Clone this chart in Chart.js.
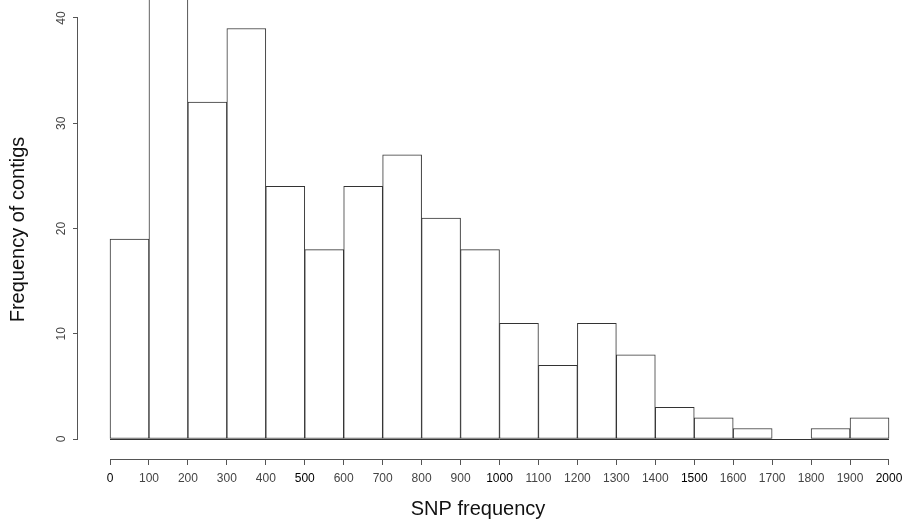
<!DOCTYPE html>
<html>
<head>
<meta charset="utf-8">
<script src="https://cdn.jsdelivr.net/npm/chart.js@4.4.1/dist/chart.umd.min.js"></script>
<style>
html, body { margin: 0; padding: 0; background: #fff; }
canvas { display: block; }
</style>
</head>
<body>
<canvas id="histChart" width="903" height="521"></canvas>
<script>
// Dados
const binStarts = [0, 100, 200, 300, 400, 500, 600, 700, 800, 900, 1000, 1100, 1200, 1300, 1400, 1500, 1600, 1700, 1800, 1900];
const counts = [19, 46, 32, 39, 24, 18, 24, 27, 21, 18, 11, 7, 11, 8, 3, 2, 1, 0, 1, 2];
const binWidth = 100;
const xTicks = [0, 100, 200, 300, 400, 500, 600, 700, 800, 900, 1000, 1100, 1200, 1300, 1400, 1500, 1600, 1700, 1800, 1900, 2000];
const yTicks = [0, 10, 20, 30, 40];

const FONT = '"Liberation Sans", Arial, Helvetica, sans-serif';
const AXIS_COLOR = '#555';

// eixos estilo R: linhas só entre o primeiro e o último tick
const rAxes = {
  id: 'rAxes',
  afterDraw(chart) {
    const ctx = chart.ctx;
    const x = chart.scales.x;
    const y = chart.scales.y;
    ctx.save();
    ctx.strokeStyle = AXIS_COLOR;
    ctx.lineWidth = 1;
    // eixo x
    ctx.beginPath();
    ctx.moveTo(x.getPixelForValue(xTicks[0]), x.top + 0.5);
    ctx.lineTo(x.getPixelForValue(xTicks[xTicks.length - 1]), x.top + 0.5);
    ctx.stroke();
    // eixo y
    ctx.beginPath();
    ctx.moveTo(y.right - 0.5, y.getPixelForValue(yTicks[0]));
    ctx.lineTo(y.right - 0.5, y.getPixelForValue(yTicks[yTicks.length - 1]));
    ctx.stroke();
    // linha de base das barras
    ctx.strokeStyle = '#333';
    ctx.beginPath();
    ctx.moveTo(x.getPixelForValue(binStarts[0]), y.getPixelForValue(0) + 0.5);
    ctx.lineTo(x.getPixelForValue(binStarts[binStarts.length - 1] + binWidth), y.getPixelForValue(0) + 0.5);
    ctx.stroke();
    // rótulos do eixo y, rodados
    ctx.fillStyle = '#444';
    ctx.font = '12px ' + FONT;
    ctx.textAlign = 'center';
    ctx.textBaseline = 'middle';
    yTicks.forEach(v => {
      ctx.save();
      ctx.translate(y.right - 16, y.getPixelForValue(v));
      ctx.rotate(-Math.PI / 2);
      ctx.fillText(String(v), 0, 0);
      ctx.restore();
    });
    ctx.restore();
  }
};

const ctxHist = document.getElementById('histChart').getContext('2d');
const histChart = new Chart(ctxHist, {
  type: 'bar',
  data: {
    datasets: [{
      data: binStarts.map((s, i) => ({ x: s + binWidth / 2, y: counts[i] })),
      backgroundColor: '#fff',
      borderColor: '#333',
      borderWidth: 1,
      borderSkipped: false,
      barPercentage: 1,
      categoryPercentage: 1,
      clip: false
    }]
  },
  options: {
    responsive: false,
    animation: false,
    layout: { padding: { top: 0, right: 25, bottom: 0, left: 0 } },
    plugins: {
      legend: { display: false },
      tooltip: { enabled: false }
    },
    scales: {
      x: {
        type: 'linear',
        offset: false,
        min: -82.2,
        max: 1971.8,
        afterBuildTicks: s => { s.ticks = xTicks.map(v => ({ value: v })); },
        afterFit: s => { s.height = 62; s.paddingLeft = 0; s.paddingRight = 0; },
        border: { display: false },
        grid: { offset: false, drawOnChartArea: false, drawTicks: true, tickLength: 6, color: AXIS_COLOR },
        ticks: {
          autoSkip: false,
          maxRotation: 0,
          padding: 6,
          font: { family: FONT, size: 12 },
          color: c => (c.tick.value % 500 === 0 ? '#000' : '#444'),
          callback: v => String(v)
        },
        title: {
          display: true,
          text: 'SNP frequency',
          color: '#111',
          font: { family: FONT, size: 20 },
          padding: { top: 0, bottom: 0 }
        }
      },
      y: {
        type: 'linear',
        min: -1.9,
        max: 41.71,
        afterBuildTicks: s => { s.ticks = yTicks.map(v => ({ value: v })); },
        afterFit: s => { s.width = 78; s.paddingTop = 0; s.paddingBottom = 0; },
        border: { display: false },
        grid: { drawOnChartArea: false, drawTicks: true, tickLength: 5, color: AXIS_COLOR },
        ticks: { display: false },
        title: {
          display: true,
          text: 'Frequency of contigs',
          color: '#111',
          font: { family: FONT, size: 20 },
          padding: { top: 6, bottom: 0 }
        }
      }
    }
  },
  plugins: [rAxes]
});
</script>
</body>
</html>
